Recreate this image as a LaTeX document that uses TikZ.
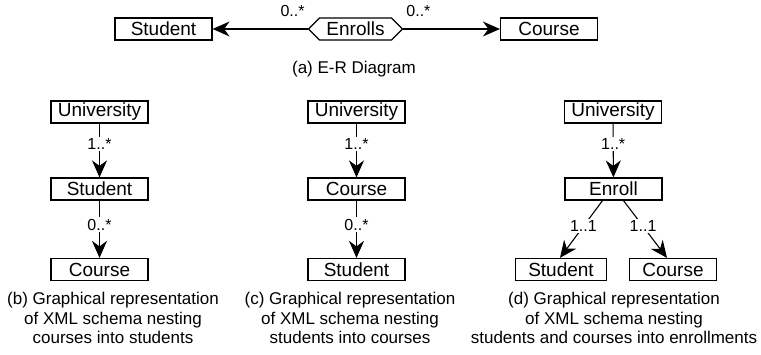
\documentclass[tikz,border=0pt]{standalone}
\usepackage{fontspec}
\setmainfont{Liberation Sans}
\usetikzlibrary{arrows.meta,shapes.symbols}

\begin{document}
\begin{tikzpicture}[x=1pt, y=-1pt,
    every node/.style={font=\fontsize{17}{19.5}\selectfont},
    entity/.style={draw, line width=1.2pt, minimum width=97pt, minimum height=22pt,
        inner ysep=0pt, font=\fontsize{19}{22}\selectfont},
    relation/.style={draw, line width=1.2pt, signal, signal to=west and east,
        signal pointer angle=90, minimum height=22pt, inner xsep=7pt, inner ysep=0pt,
        font=\fontsize{19}{22}\selectfont},
    link/.style={line width=1.1pt, -{Stealth[length=17pt, width=15pt, inset=5.5pt]}},
    card/.style={fill=white, inner sep=1.5pt, font=\fontsize{16}{18}\selectfont},
    subcap/.style={align=center, anchor=north, inner sep=0pt}
    ]
    \useasboundingbox (0,0) rectangle (761,355);

    % (a) E-R diagram
    \node[entity] (stuA) at (163.5,29) {Student};
    \node[relation] (enrA) at (355.5,29) {Enrolls};
    \node[entity] (crsA) at (549,29) {Course};
    \draw[link] (enrA.west) -- node[card, fill=none, pos=0, anchor=south east,
        xshift=-1pt, yshift=10pt] {0..*} (stuA.east);
    \draw[link] (enrA.east) -- node[card, fill=none, pos=0, anchor=south west,
        xshift=1pt, yshift=10pt] {0..*} (crsA.west);
    \node (capA) at (354,69) {(a) E-R Diagram};

    % (b) courses nested into students
    \node[entity] (uniB) at (99.5,112) {University};
    \node[entity] (stuB) at (99.5,189) {Student};
    \node[entity] (crsB) at (99.5,269.5) {Course};
    \draw[link] (uniB) -- node[card, pos=0.38] {1..*} (stuB);
    \draw[link] (stuB) -- node[card, pos=0.42] {0..*} (crsB);
    \node[subcap] (capB) at (113,292) {(b) Graphical representation\\
        of XML schema nesting\\ courses into students};

    % (c) students nested into courses
    \node[entity] (uniC) at (356.5,112) {University};
    \node[entity] (crsC) at (356.5,189) {Course};
    \node[entity] (stuC) at (356.5,269.5) {Student};
    \draw[link] (uniC) -- node[card, pos=0.38] {1..*} (crsC);
    \draw[link] (crsC) -- node[card, pos=0.42] {0..*} (stuC);
    \node[subcap] (capC) at (350,292) {(c) Graphical representation\\
        of XML schema nesting\\ students into courses};

    % (d) students and courses nested into enrollments
    \node[entity] (uniD) at (613,112) {University};
    \node[entity] (enrD) at (613.5,189) {Enroll};
    \node[entity, minimum width=0pt, inner xsep=12.5pt] (stuD) at (561,269.5) {Student};
    \node[entity, minimum width=0pt, inner xsep=12.5pt] (crsD) at (673,269.5) {Course};
    \draw[link] (uniD) -- node[card, pos=0.38] {1..*} (enrD);
    \draw[link] ([xshift=-11pt]enrD.south) -- node[card, pos=0.45] {1..1}
        ([xshift=-1pt]stuD.north);
    \draw[link] ([xshift=10pt]enrD.south) -- node[card, pos=0.45] {1..1}
        ([xshift=-6pt]crsD.north);
    \node[subcap] (capD) at (614,292) {(d) Graphical representation\\
        of XML schema nesting\\ students and courses into enrollments};

\end{tikzpicture}
\end{document}
